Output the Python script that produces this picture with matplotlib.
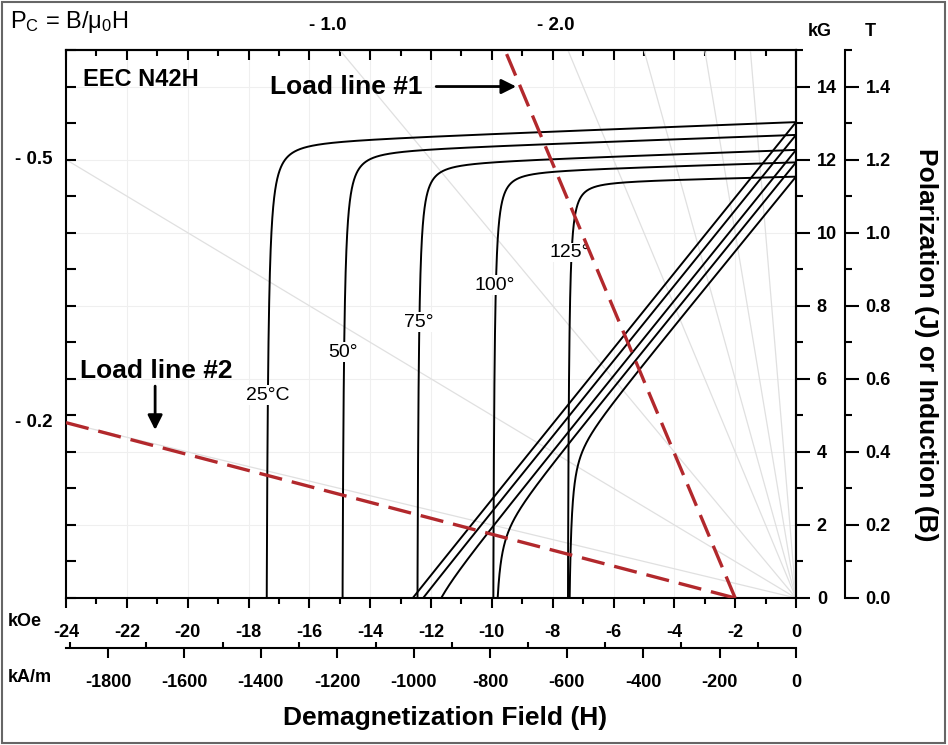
import numpy as np
import matplotlib.pyplot as plt
from matplotlib.ticker import MultipleLocator, FormatStrFormatter
from matplotlib.patches import Rectangle

plt.rcParams['font.family'] = ['Liberation Sans', 'DejaVu Sans']
plt.rcParams['font.weight'] = 'bold'
plt.rcParams['axes.unicode_minus'] = False
plt.rcParams['mathtext.fontset'] = 'custom'
plt.rcParams['mathtext.rm'] = 'Liberation Sans'
plt.rcParams['mathtext.default'] = 'regular'

# curvas J (intrinseca) y B (normal) por temperatura
temps = ['25°C', '50°', '75°', '100°', '125°']
br = [13.03, 12.68, 12.27, 11.93, 11.54]        # kG en H = 0
hk = [-17.48, -14.98, -12.51, -10.01, -7.55]    # kOe, donde cae J
rev_slope = [0.032, 0.030, 0.030, 0.026, 0.020]
knee = [0.28, 0.24, 0.20, 0.17, 0.14]
label_b = [5.55, 6.73, 7.55, 8.56, 9.46]

# lineas de carga (kOe, kG)
load1_h = [-2.0, -9.57]
load1_b = [0.0, 15.0]
load2_h = [-24.0, -2.0]
load2_b = [4.8, 0.0]

# rectas Pc desde el origen
pc_lines = [0.2, 0.5, 1.0, 2.0, 3.0, 5.0, 10.0]
pc_left = [0.5, 0.2]
pc_top = [1.0, 2.0]

KOE_TO_KAM = 79.5775
red = '#b2282c'

fig = plt.figure(figsize=(9.48, 7.45), dpi=100)
ax = fig.add_axes([66 / 948, 147 / 745, 730 / 948, 548 / 745])
ax.set_xlim(-24, 0)
ax.set_ylim(0, 15)

for h in range(-22, 0, 2):
    ax.axvline(h, color='#efefef', lw=0.8, zorder=0)
for b in range(2, 15, 2):
    ax.axhline(b, color='#efefef', lw=0.8, zorder=0)

hh = np.array([-24.0, 0.0])
for pc in pc_lines:
    ax.plot(hh, -pc * hh, color='#e0e0e0', lw=0.9, zorder=1)

for i in range(len(temps)):
    x = np.geomspace(0.003, -hk[i], 4000)
    H = hk[i] + x
    J = br[i] + rev_slope[i] * H - knee[i] / x ** 1.5
    ax.plot(H, J, color='black', lw=1.4, zorder=3)
    ax.plot(H, J + H, color='black', lw=1.4, zorder=3)
    ax.text(hk[i] + 0.1, label_b[i], temps[i], ha='center', va='center',
            fontsize=14, fontweight='normal', zorder=4,
            bbox=dict(fc='white', ec='none', pad=1.0))

ax.plot(load1_h, load1_b, color=red, lw=2.4, dashes=(7, 3), zorder=5)
ax.plot(load2_h, load2_b, color=red, lw=2.4, dashes=(7, 3), zorder=5)

ax.text(-23.45, 14.2, 'EEC N42H', fontsize=17, va='center', ha='left')
ax.annotate('Load line #1', xy=(-9.2, 14.0), xytext=(-17.3, 14.0),
            fontsize=19, va='center', ha='left',
            arrowprops=dict(arrowstyle='-|>', color='black', lw=2, mutation_scale=22,
                            shrinkA=8, shrinkB=0))
ax.text(-23.55, 6.2, 'Load line #2', fontsize=19, va='center', ha='left')
ax.annotate('', xy=(-21.07, 4.6), xytext=(-21.07, 5.8),
            arrowprops=dict(arrowstyle='-|>', color='black', lw=2, mutation_scale=22,
                            shrinkA=0, shrinkB=0))

for pc in pc_left:
    ax.text(-24.45, 24 * pc, '- %.1f' % pc, fontsize=13.5, ha='right', va='center')
for pc in pc_top:
    ax.text(-15 / pc - 0.4, 15.45, '- %.1f' % pc, fontsize=13.5, ha='center', va='bottom')

for s in ax.spines.values():
    s.set_linewidth(1.5)

ax.xaxis.set_major_locator(MultipleLocator(2))
ax.xaxis.set_minor_locator(MultipleLocator(1))
ax.tick_params(axis='x', which='major', direction='out', length=7, width=1.5, pad=12, labelsize=13)
ax.tick_params(axis='x', which='minor', direction='out', length=4, width=1.5)
ax.yaxis.set_major_locator(MultipleLocator(1))
ax.tick_params(axis='y', direction='in', length=7, width=1.5, labelleft=False)

top = ax.secondary_xaxis('top')
top.xaxis.set_major_locator(MultipleLocator(2))
top.xaxis.set_minor_locator(MultipleLocator(1))
top.tick_params(axis='x', which='major', direction='in', length=7, width=1.5, labeltop=False)
top.tick_params(axis='x', which='minor', direction='in', length=4, width=1.5)
top.spines['top'].set_linewidth(1.5)

kg = ax.secondary_yaxis('right')
kg.set_yticks(range(0, 15, 2))
kg.yaxis.set_minor_locator(MultipleLocator(1))
kg.tick_params(axis='y', which='major', direction='out', length=10, width=1.5, pad=5, labelsize=13)
kg.tick_params(axis='y', which='minor', direction='out', length=5, width=1.5)
kg.spines['right'].set_linewidth(1.5)

tesla = ax.secondary_yaxis(1.067, functions=(lambda b: b / 10, lambda t: t * 10))
tesla.set_yticks(np.arange(0, 1.41, 0.2))
tesla.yaxis.set_major_formatter(FormatStrFormatter('%.1f'))
tesla.yaxis.set_minor_locator(MultipleLocator(0.1))
tesla.tick_params(axis='y', which='major', direction='out', length=10, width=1.5, pad=5, labelsize=13)
tesla.tick_params(axis='y', which='minor', direction='out', length=5, width=1.5)
tesla.spines['right'].set_linewidth(1.5)

kam = ax.secondary_xaxis(-50 / 548, functions=(lambda h: h * KOE_TO_KAM, lambda a: a / KOE_TO_KAM))
kam.set_xticks(range(-1800, 1, 200))
kam.xaxis.set_minor_locator(MultipleLocator(100))
kam.tick_params(axis='x', which='major', direction='out', length=7, width=1.5, pad=12, labelsize=13)
kam.tick_params(axis='x', which='minor', direction='in', length=4, width=1.5)
kam.spines['bottom'].set_linewidth(1.5)

fig.text(8 / 948, 1 - 622 / 745, 'kOe', fontsize=13, va='center', ha='left')
fig.text(8 / 948, 1 - 678 / 745, 'kA/m', fontsize=13, va='center', ha='left')
fig.text(820 / 948, 1 - 31 / 745, 'kG', fontsize=13, va='center', ha='center')
fig.text(870 / 948, 1 - 31 / 745, 'T', fontsize=13, va='center', ha='center')
fig.text(10 / 948, 1 - 22 / 745, 'P$_C$ = B/μ$_0$H', fontsize=17, fontweight='normal',
         va='center', ha='left')
fig.text(445 / 948, 1 - 718 / 745, 'Demagnetization Field (H)', fontsize=19,
         va='center', ha='center')
fig.text(926 / 948, 1 - 345 / 745, 'Polarization (J) or Induction (B)', fontsize=19,
         rotation=-90, va='center', ha='center')

fig.patches.append(Rectangle((0.002, 0.003), 0.995, 0.994, transform=fig.transFigure,
                             fill=False, edgecolor='#666666', lw=1.5))

fig.savefig('out.png', dpi=100)
